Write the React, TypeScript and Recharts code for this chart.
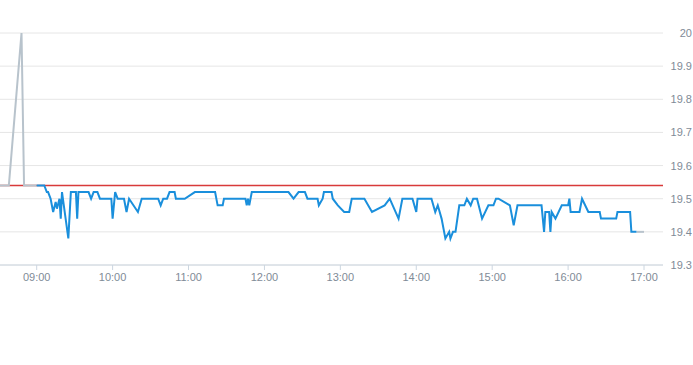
import React from 'react';
import { ComposedChart, Line, XAxis, YAxis, CartesianGrid } from 'recharts';

// minutes since midnight
const preTimes = [511, 518, 528, 530, 540];
const prePrices = [19.54, 19.54, 20.0, 19.54, 19.54];

const mainTimes = [
  540, 546, 548, 549, 551, 553, 555, 556, 558, 559, 560, 565, 567, 571, 572, 573,
  581, 583, 585, 588, 590, 599, 600, 602, 604, 609, 611, 613, 620, 623, 636, 638,
  640, 643, 645, 649, 650, 657, 665, 681, 683, 687, 688, 705, 706, 707, 708, 710,
  739, 743, 747, 752, 754, 762, 763, 766, 767, 773, 774, 778, 783, 787, 789, 799,
  805, 815, 819, 826, 829, 837, 840, 841, 852, 855, 857, 860, 863, 866, 867, 869,
  871, 874, 878, 880, 883, 885, 888, 892, 897, 901, 903, 905, 914, 917, 920, 939,
  941, 942, 945, 946, 947, 950, 955, 960, 961, 962, 969, 971, 976, 985, 986, 998,
  999, 1009, 1010, 1014,
];
const mainPrices = [
  19.54, 19.54, 19.52, 19.52, 19.50, 19.46, 19.49, 19.47, 19.50, 19.44, 19.52, 19.38, 19.52, 19.52, 19.44, 19.52,
  19.52, 19.50, 19.52, 19.52, 19.50, 19.50, 19.44, 19.52, 19.50, 19.50, 19.46, 19.50, 19.46, 19.50, 19.50, 19.48,
  19.50, 19.50, 19.52, 19.52, 19.50, 19.50, 19.52, 19.52, 19.48, 19.48, 19.50, 19.50, 19.48, 19.50, 19.48, 19.52,
  19.52, 19.50, 19.52, 19.52, 19.50, 19.50, 19.48, 19.50, 19.52, 19.52, 19.50, 19.48, 19.46, 19.46, 19.50, 19.50,
  19.46, 19.48, 19.50, 19.44, 19.50, 19.50, 19.46, 19.50, 19.50, 19.46, 19.48, 19.44, 19.38, 19.40, 19.38, 19.40,
  19.40, 19.48, 19.48, 19.50, 19.48, 19.50, 19.50, 19.44, 19.48, 19.48, 19.50, 19.50, 19.48, 19.42, 19.48, 19.48,
  19.40, 19.46, 19.46, 19.40, 19.46, 19.44, 19.48, 19.48, 19.50, 19.46, 19.46, 19.50, 19.46, 19.46, 19.44, 19.44,
  19.46, 19.46, 19.40, 19.40,
];

const postTimes = [1014, 1020];
const postPrices = [19.40, 19.40];

const prevClose = 19.54;
const domainStart = 511;
const domainEnd = 1035;
const xTicks = [540, 600, 660, 720, 780, 840, 900, 960, 1020];
const yTicks = [19.3, 19.4, 19.5, 19.6, 19.7, 19.8, 19.9, 20.0];

const toRows = (ts: number[], ps: number[]) => ts.map((t, i) => ({ t, p: ps[i] }));
const preData = toRows(preTimes, prePrices);
const mainData = toRows(mainTimes, mainPrices);
const postData = toRows(postTimes, postPrices);
const closeData = toRows([domainStart, domainEnd], [prevClose, prevClose]);

const fmtTime = (m: number) => {
  const h = Math.floor(m / 60);
  const mm = m % 60;
  return `${String(h).padStart(2, '0')}:${String(mm).padStart(2, '0')}`;
};
const fmtPrice = (v: number) => String(Math.round(v * 10) / 10);

const labelColor = '#7f8b97';
const font = '"Liberation Sans", Arial, sans-serif';

const YTick = (props: any) => {
  const { y, payload } = props;
  return (
    <text x={692} y={y} dy={4} textAnchor="end" fill={labelColor} fontSize={11} fontFamily={font}>
      {fmtPrice(payload.value)}
    </text>
  );
};

export default function App() {
  return (
    <div style={{ position: 'absolute', left: 0, top: 0, width: 693, height: 365 }}>
      <ComposedChart width={693} height={365} margin={{ top: 33, right: 0, bottom: 0, left: 0 }}>
        <CartesianGrid vertical={false} stroke="#e6e6e6" />
        <XAxis
          type="number"
          dataKey="t"
          domain={[domainStart, domainEnd]}
          ticks={xTicks}
          tickFormatter={fmtTime}
          height={100}
          tickSize={5}
          tickMargin={3}
          stroke="#ccd6e0"
          tick={{ fill: labelColor, fontSize: 11, fontFamily: font }}
          allowDataOverflow
        />
        <YAxis
          orientation="right"
          width={30}
          domain={[19.3, 20]}
          ticks={yTicks}
          axisLine={false}
          tickLine={false}
          tick={<YTick />}
          allowDataOverflow
        />
        <Line data={closeData} dataKey="p" stroke="#d83a3a" strokeWidth={1.5} dot={false} activeDot={false} isAnimationActive={false} />
        <Line data={preData} dataKey="p" stroke="#b8c3cc" strokeWidth={2} dot={false} isAnimationActive={false} />
        <Line data={postData} dataKey="p" stroke="#b8c3cc" strokeWidth={2} dot={false} isAnimationActive={false} />
        <Line data={mainData} dataKey="p" stroke="#1a8fdc" strokeWidth={2} dot={false} isAnimationActive={false} />
      </ComposedChart>
    </div>
  );
}
